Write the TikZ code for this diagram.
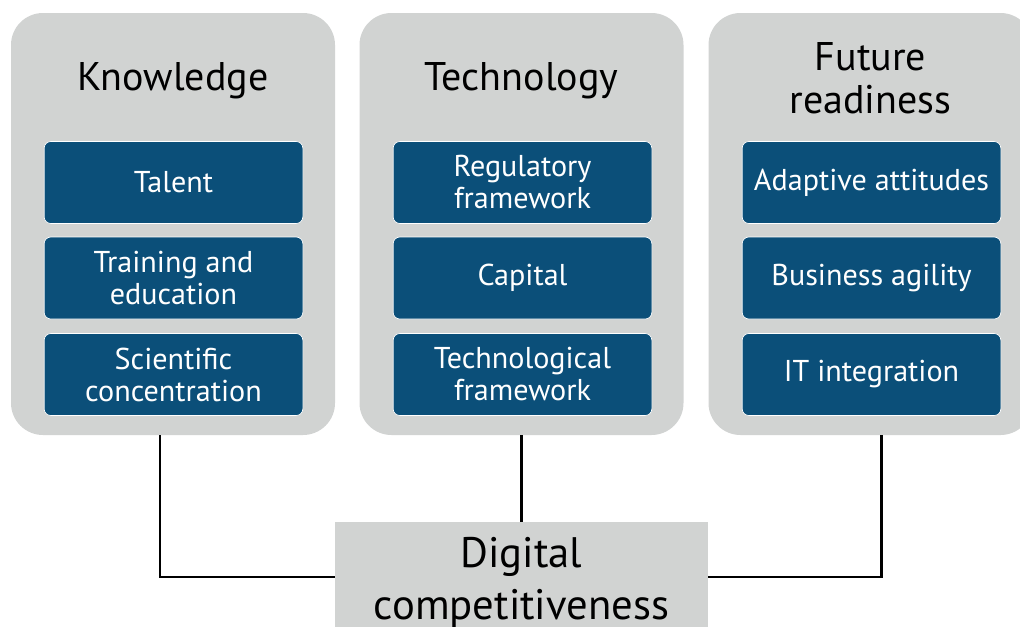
\documentclass[tikz,border=0pt]{standalone}
\usepackage{fontspec}
\setmainfont{PT Sans}
\usetikzlibrary{positioning}

\definecolor{panelgray}{HTML}{D1D3D2}
\definecolor{boxblue}{HTML}{0B4F79}

\tikzset{
    panel/.style={fill=panelgray, rounded corners=24pt, minimum width=243pt, minimum height=316.5pt, inner sep=0pt},
    title/.style={align=center, font=\fontsize{30}{32.5}\selectfont, text=black},
    item/.style={fill=boxblue, draw=white, line width=0.5pt, rounded corners=5pt, minimum width=194pt, minimum height=61.5pt, inner sep=0pt, align=center, text=white, font=\fontsize{22.6}{24}\selectfont},
    link/.style={line width=2.2pt, black}
}

\begin{document}
\begin{tikzpicture}[x=0.75pt, y=-0.75pt]
    \useasboundingbox (0,0) rectangle (1020,626);
    % panels
    \node[panel] (know) at (173,224) {};
    \node[panel] (tech) at (521.5,224) {};
    \node[panel] (future) at (870.5,224) {};
    % titles
    \node[title] (knowT) at (173,81) {Knowledge};
    \node[title] (techT) at (521.5,81) {Technology};
    \node[title] (futureT) at (870.5,78) {Future\\readiness};
    % items
    \node[item] (talent) at (173.5,182.5) {Talent};
    \node[item] (train) at (173.5,278) {Training and\\education};
    \node[item] (sci) at (173.5,374.5) {Scientific\\concentration};
    \node[item] (reg) at (522.5,182.5) {Regulatory\\framework};
    \node[item] (cap) at (522.5,278) {Capital};
    \node[item] (techf) at (522.5,374.5) {Technological\\framework};
    \node[item] (adapt) at (871.5,182.5) {Adaptive attitudes};
    \node[item] (agile) at (871.5,278) {Business agility};
    \node[item] (it) at (871.5,374.5) {IT integration};
    % result
    \node[fill=panelgray, minimum width=280pt, minimum height=82pt, inner sep=0pt, align=center,
          font=\fontsize{32}{39}\selectfont] (dc) at (521.5,577) {\raisebox{-4.5pt}[\height][\depth]{\begin{tabular}{@{}c@{}}Digital\\[-0.5pt]competitiveness\end{tabular}}};
    % links
    \draw[link] ([xshift=-9.75pt]know.south) |- (dc.west);
    \draw[link] (tech.south) -- (dc.north);
    \draw[link] ([xshift=7.9pt]future.south) |- (dc.east);
\end{tikzpicture}
\end{document}
